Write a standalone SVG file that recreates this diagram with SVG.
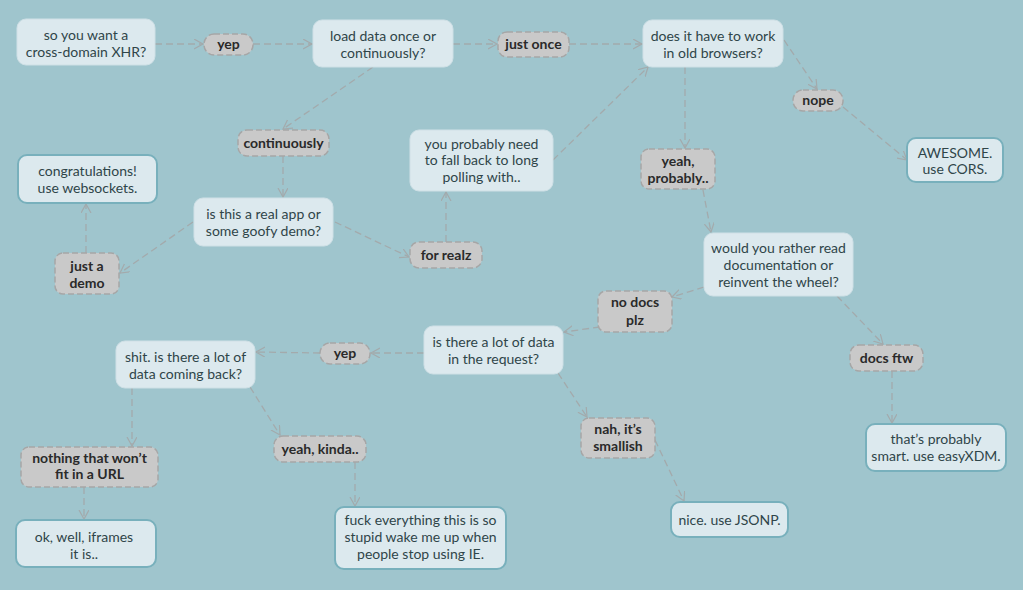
<svg xmlns="http://www.w3.org/2000/svg" width="1023" height="590" viewBox="0 0 1023 590">
<defs>
<marker id="arr" markerUnits="userSpaceOnUse" markerWidth="12" markerHeight="12" refX="9" refY="5" orient="auto">
<path d="M0,0 L9,5 L0,10" fill="none" stroke="#a3aaac" stroke-width="1.2"/>
</marker>
<style>
.q{fill:#dce9ee;stroke:#cfe0e6;stroke-width:1}
.e{fill:#dce9ee;stroke:#78b0bc;stroke-width:2}
.p{fill:#c9c9c9;stroke:#a6a6a6;stroke-width:1.5;stroke-dasharray:6 3}
.t{font-family:Lato,"Open Sans",sans-serif;font-size:14px;fill:#2f4549;text-anchor:middle}
.b{font-family:Lato,"Open Sans",sans-serif;font-size:14px;font-weight:bold;fill:#2a2a2a;text-anchor:middle}
.c{fill:none;stroke:#a3aaac;stroke-width:1.3;stroke-dasharray:7 4;marker-end:url(#arr)}
</style>
</defs>
<rect width="1023" height="590" fill="#9fc5cd"/>
<g id="connectors">
<path class="c" d="M155,44 L203,44"/>
<path class="c" d="M253,44 L312,44"/>
<path class="c" d="M453,44 L497,44"/>
<path class="c" d="M569,44 L642,44"/>
<path class="c" d="M373,67 L283,129"/>
<path class="c" d="M283,156 L283,197"/>
<path class="c" d="M193,222 L120,273"/>
<path class="c" d="M86,253 L86,204"/>
<path class="c" d="M335,222 L409,257"/>
<path class="c" d="M446,242 L446,192"/>
<path class="c" d="M553,160 L648,67"/>
<path class="c" d="M784,40 L817,89"/>
<path class="c" d="M843,107 L907,160"/>
<path class="c" d="M685,67 L685,148"/>
<path class="c" d="M703,190 L711,232"/>
<path class="c" d="M704,287 L672,297"/>
<path class="c" d="M837,296 L883,344"/>
<path class="c" d="M600,327 L564,332"/>
<path class="c" d="M558,373 L587,417"/>
<path class="c" d="M655,440 L684,501"/>
<path class="c" d="M892,371 L892,423"/>
<path class="c" d="M424,353 L371,353"/>
<path class="c" d="M320,353 L256,352"/>
<path class="c" d="M132,388 L132,446"/>
<path class="c" d="M250,387 L280,435"/>
<path class="c" d="M84,487 L84,519"/>
<path class="c" d="M355,462 L355,506"/>
</g>
<g id="q1"><rect class="q" x="17" y="19" width="138" height="46" rx="9"/><text class="t" x="86" y="40">so you want a</text><text class="t" x="86" y="57">cross-domain XHR?</text></g>
<g id="yep1"><rect class="p" x="204" y="34" width="49" height="21" rx="10"/><text class="b" x="228.5" y="49">yep</text></g>
<g id="q2"><rect class="q" x="313" y="20" width="140" height="47" rx="9"/><text class="t" x="383" y="41">load data once or</text><text class="t" x="383" y="58">continuously?</text></g>
<g id="justonce"><rect class="p" x="498" y="32" width="71" height="25" rx="9"/><text class="b" x="533.5" y="49">just once</text></g>
<g id="q3"><rect class="q" x="643" y="20" width="140" height="47" rx="9"/><text class="t" x="713" y="41">does it have to work</text><text class="t" x="713" y="58">in old browsers?</text></g>
<g id="nope"><rect class="p" x="793" y="90" width="50" height="21" rx="10"/><text class="b" x="818" y="105">nope</text></g>
<g id="cors"><rect class="e" x="907" y="138" width="96" height="44" rx="9"/><text class="t" x="955" y="158">AWESOME.</text><text class="t" x="955" y="174">use CORS.</text></g>
<g id="yeahprobably"><rect class="p" x="641" y="149" width="74" height="40" rx="8"/><text class="b" x="678" y="166">yeah,</text><text class="b" x="678" y="183">probably..</text></g>
<g id="continuously"><rect class="p" x="238" y="130" width="91" height="26" rx="9"/><text class="b" x="283.5" y="148">continuously</text></g>
<g id="polling"><rect class="q" x="410" y="130" width="143" height="61" rx="9"/><text class="t" x="481.5" y="149">you probably need</text><text class="t" x="481.5" y="165">to fall back to long</text><text class="t" x="481.5" y="182">polling with..</text></g>
<g id="websockets"><rect class="e" x="18" y="155" width="139" height="48" rx="9"/><text class="t" x="87.5" y="176">congratulations!</text><text class="t" x="87.5" y="193">use websockets.</text></g>
<g id="q4"><rect class="q" x="194" y="198" width="139" height="48" rx="9"/><text class="t" x="263.5" y="219">is this a real app or</text><text class="t" x="263.5" y="236">some goofy demo?</text></g>
<g id="forrealz"><rect class="p" x="410" y="242" width="72" height="26" rx="9"/><text class="b" x="446" y="260">for realz</text></g>
<g id="justademo"><rect class="p" x="55" y="253" width="64" height="41" rx="8"/><text class="b" x="87" y="271">just a</text><text class="b" x="87" y="288">demo</text></g>
<g id="q5"><rect class="q" x="704" y="233" width="149" height="63" rx="9"/><text class="t" x="778.5" y="253">would you rather read</text><text class="t" x="778.5" y="270">documentation or</text><text class="t" x="778.5" y="287">reinvent the wheel?</text></g>
<g id="nodocs"><rect class="p" x="598" y="291" width="74" height="41" rx="8"/><text class="b" x="635" y="307">no docs</text><text class="b" x="635" y="325">plz</text></g>
<g id="docsftw"><rect class="p" x="850" y="345" width="73" height="26" rx="9"/><text class="b" x="886.5" y="363">docs ftw</text></g>
<g id="q6"><rect class="q" x="424" y="326" width="139" height="48" rx="9"/><text class="t" x="493.5" y="347">is there a lot of data</text><text class="t" x="493.5" y="364">in the request?</text></g>
<g id="yep2"><rect class="p" x="320" y="343" width="50" height="21" rx="10"/><text class="b" x="345" y="358">yep</text></g>
<g id="q7"><rect class="q" x="116" y="341" width="139" height="47" rx="9"/><text class="t" x="185.5" y="362">shit. is there a lot of</text><text class="t" x="185.5" y="379">data coming back?</text></g>
<g id="nothing"><rect class="p" x="21" y="447" width="137" height="40" rx="8"/><text class="b" x="89.5" y="463">nothing that won’t</text><text class="b" x="89.5" y="479">fit in a URL</text></g>
<g id="yeahkinda"><rect class="p" x="274" y="436" width="92" height="26" rx="9"/><text class="b" x="320" y="454">yeah, kinda..</text></g>
<g id="iframes"><rect class="e" x="16" y="520" width="140" height="47" rx="9"/><text class="t" x="84" y="542">ok, well, iframes</text><text class="t" x="84" y="559">it is..</text></g>
<g id="ie"><rect class="e" x="335" y="507" width="171" height="62" rx="9"/><text class="t" x="420.5" y="525">fuck everything this is so</text><text class="t" x="420.5" y="542">stupid wake me up when</text><text class="t" x="420.5" y="559">people stop using IE.</text></g>
<g id="smallish"><rect class="p" x="581" y="418" width="74" height="40" rx="8"/><text class="b" x="618" y="434">nah, it’s</text><text class="b" x="618" y="451">smallish</text></g>
<g id="jsonp"><rect class="e" x="671" y="502" width="117" height="35" rx="9"/><text class="t" x="729.5" y="525">nice. use JSONP.</text></g>
<g id="easyxdm"><rect class="e" x="866" y="424" width="140" height="47" rx="9"/><text class="t" x="936" y="444">that’s probably</text><text class="t" x="936" y="461">smart. use easyXDM.</text></g>
</svg>
